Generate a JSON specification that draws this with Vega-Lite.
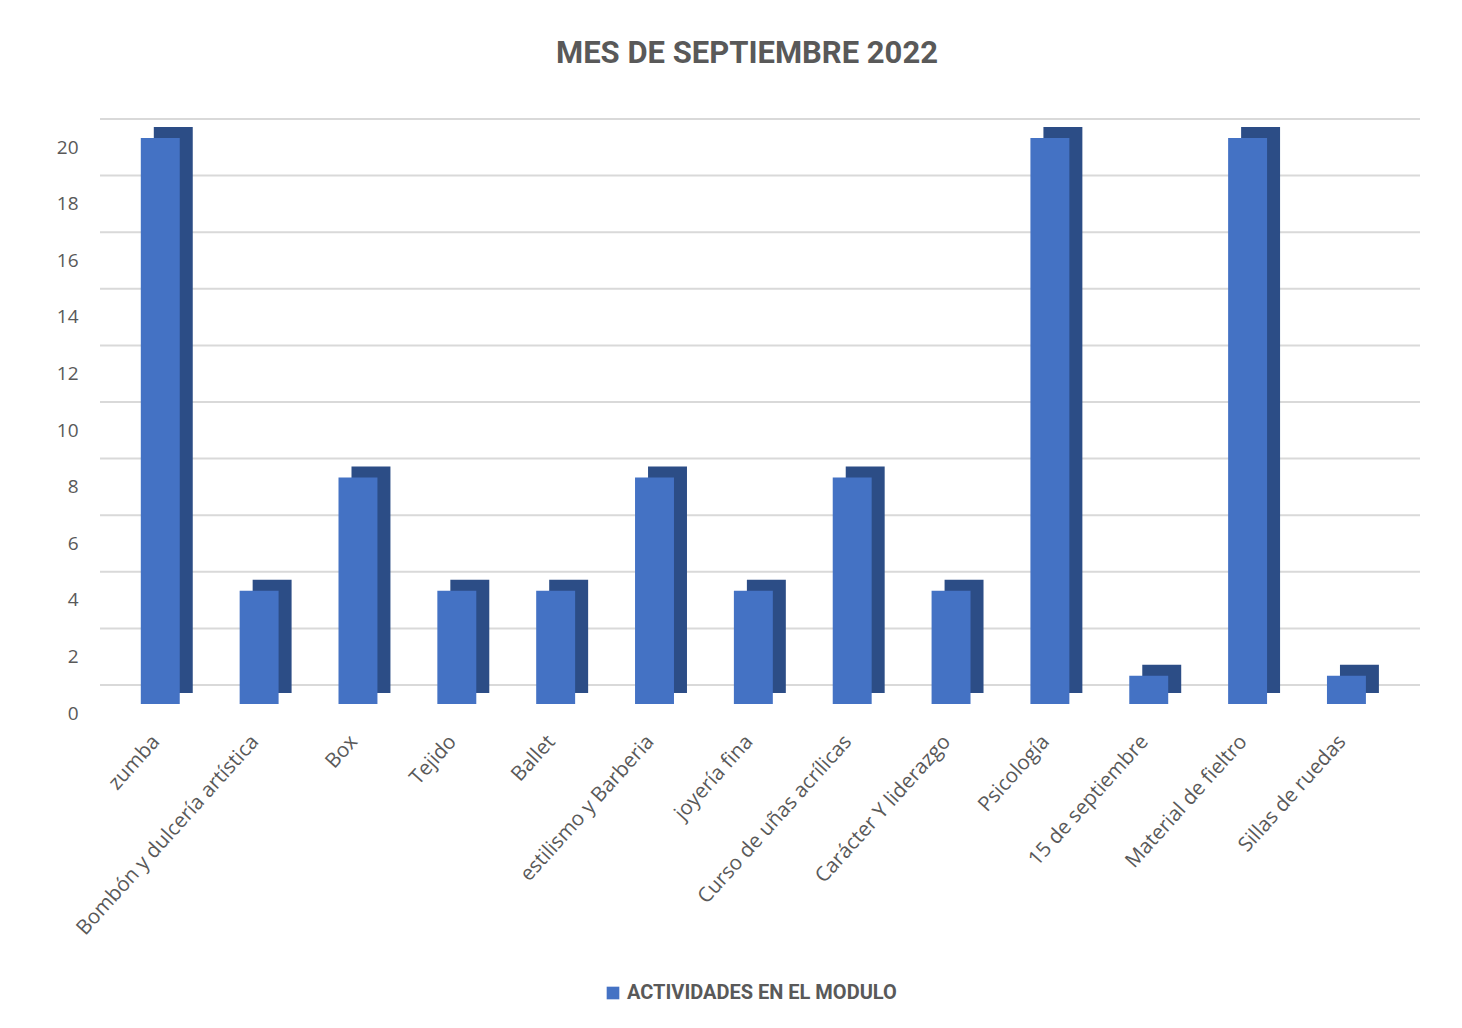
{
  "$schema": "https://vega.github.io/schema/vega-lite/v6.json",
  "width": 1320,
  "height": 566,
  "autosize": {"type": "none"},
  "padding": {"left": 100, "top": 138, "right": 42, "bottom": 324},
  "background": "white",
  "config": {"view": {"stroke": null}},
  "title": {
    "text": "MES DE SEPTIEMBRE 2022",
    "font": "Roboto",
    "fontSize": 31,
    "fontWeight": "bold",
    "color": "#595959",
    "anchor": "middle",
    "offset": 48,
    "dx": -13
  },
  "datasets": {
    "bars": [
      {"actividad": "zumba", "valor": 20},
      {"actividad": "Bombón y dulcería artística", "valor": 4},
      {"actividad": "Box", "valor": 8},
      {"actividad": "Tejido", "valor": 4},
      {"actividad": "Ballet", "valor": 4},
      {"actividad": "estilismo y Barberia", "valor": 8},
      {"actividad": "joyería fina", "valor": 4},
      {"actividad": "Curso de uñas acrílicas", "valor": 8},
      {"actividad": "Carácter Y liderazgo", "valor": 4},
      {"actividad": "Psicología", "valor": 20},
      {"actividad": "15 de septiembre", "valor": 1},
      {"actividad": "Material de fieltro", "valor": 20},
      {"actividad": "Sillas de ruedas", "valor": 1}
    ],
    "grid": [
      {"v": 0}, {"v": 2}, {"v": 4}, {"v": 6}, {"v": 8}, {"v": 10},
      {"v": 12}, {"v": 14}, {"v": 16}, {"v": 18}, {"v": 20}
    ]
  },
  "layer": [
    {
      "data": {"name": "grid"},
      "mark": {"type": "rule", "color": "#D9D9D9", "strokeWidth": 2, "yOffset": -19},
      "encoding": {
        "y": {"field": "v", "type": "quantitative", "scale": {"domain": [0, 20], "nice": false},
          "axis": {
            "values": [0, 2, 4, 6, 8, 10, 12, 14, 16, 18, 20],
            "title": null, "grid": false, "ticks": false, "domain": false,
            "labelFont": "Open Sans", "labelFontSize": 19, "labelColor": "#595959",
            "labelPadding": 22, "labelOffset": 9
          }
        }
      }
    },
    {
      "data": {"name": "bars"},
      "mark": {"type": "bar", "color": "#2C4D86", "xOffset": 13, "x2Offset": 13, "yOffset": -11, "y2Offset": -11},
      "encoding": {
        "x": {"field": "actividad", "type": "nominal", "sort": null,
          "scale": {"paddingInner": 0.606, "paddingOuter": 0.48, "align": 0.43},
          "axis": {
            "title": null, "ticks": false, "domain": false, "grid": false,
            "labelAngle": -48, "labelAlign": "right", "labelBaseline": "middle",
            "labelFont": "Open Sans", "labelFontSize": 20.5, "labelColor": "#595959",
            "labelPadding": 34, "labelOffset": -4, "labelLimit": 400
          }
        },
        "y": {"field": "valor", "type": "quantitative"}
      }
    },
    {
      "data": {"name": "bars"},
      "mark": {"type": "bar"},
      "encoding": {
        "x": {"field": "actividad", "type": "nominal", "sort": null},
        "y": {"field": "valor", "type": "quantitative"},
        "color": {
          "datum": "ACTIVIDADES EN EL MODULO",
          "scale": {"range": ["#4472C4"]},
          "legend": {
            "title": null, "orient": "none", "legendX": 503, "legendY": 845,
            "symbolType": "square", "symbolSize": 160, "symbolStrokeWidth": 0,
            "labelFont": "Roboto", "labelLimit": 500,
            "labelFontSize": 20, "labelFontWeight": "bold", "labelColor": "#595959"
          }
        }
      }
    }
  ]
}
